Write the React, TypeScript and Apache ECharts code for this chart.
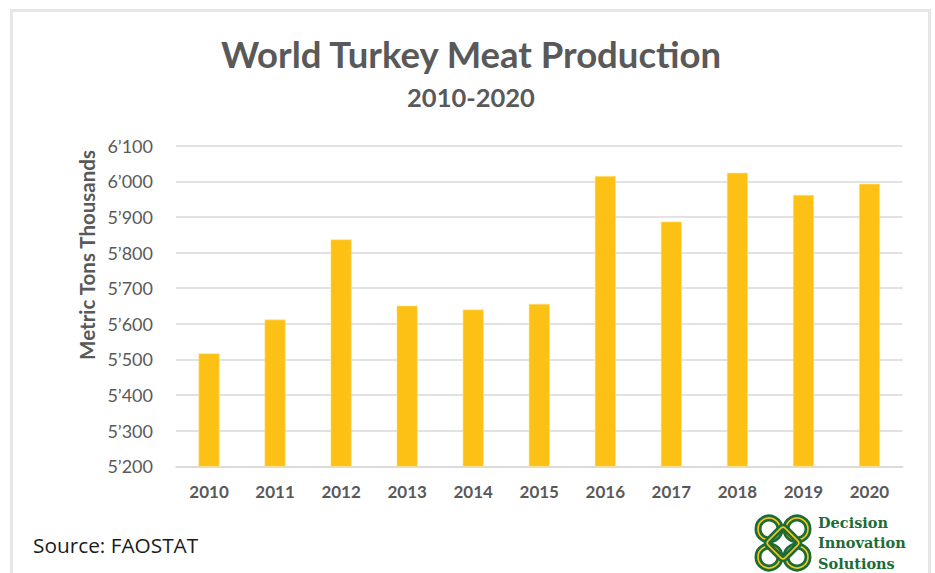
import React, { useEffect, useRef } from "react";
import * as echarts from "echarts";

const years = ["2010", "2011", "2012", "2013", "2014", "2015", "2016", "2017", "2018", "2019", "2020"];
const production = [5517, 5612, 5837, 5651, 5640, 5656, 6015, 5887, 6024, 5962, 5993];
const yMin = 5200;
const yMax = 6100;
const yStep = 100;

const FONT = "Lato, 'Noto Sans', sans-serif";
const GRAY = "#595959";
const GREEN = "#1d6b37";
const GOLD = "#f5c518";

export default function App() {
  const ref = useRef<HTMLDivElement>(null);
  useEffect(() => {
    if (!ref.current) return;
    const chart = echarts.init(ref.current, undefined, { renderer: "svg" });
    const knot: any[] = [];
    const cx = 783, cy = 543;
    const loops = [
      [cx - 14, cy - 14],
      [cx + 14, cy - 14],
      [cx - 14, cy + 14],
      [cx + 14, cy + 14],
    ];
    loops.forEach(([x, y]) => {
      knot.push({ type: "circle", shape: { cx: x, cy: y, r: 11 }, style: { fill: "none", stroke: GREEN, lineWidth: 7 } });
      knot.push({ type: "circle", shape: { cx: x, cy: y, r: 11 }, style: { fill: "none", stroke: GOLD, lineWidth: 1.6 } });
    });
    knot.push({
      type: "rect",
      x: cx,
      y: cy,
      rotation: Math.PI / 4,
      shape: { x: -12, y: -12, width: 24, height: 24, r: 3 },
      style: { fill: "none", stroke: GREEN, lineWidth: 7 },
    });
    knot.push({
      type: "rect",
      x: cx,
      y: cy,
      rotation: Math.PI / 4,
      shape: { x: -12, y: -12, width: 24, height: 24, r: 3 },
      style: { fill: "none", stroke: GOLD, lineWidth: 1.6 },
    });

    chart.setOption({
      animation: false,
      backgroundColor: "#ffffff",
      title: [
        {
          text: "World Turkey Meat Production",
          left: 466,
          textAlign: "center",
          top: 30,
          textStyle: { fontFamily: FONT, fontSize: 36.5, fontWeight: "bold", color: GRAY },
        },
        {
          text: "2010-2020",
          left: 466,
          textAlign: "center",
          top: 79,
          textStyle: { fontFamily: FONT, fontSize: 25.5, fontWeight: "bold", color: GRAY },
        },
      ],
      grid: { left: 176, right: 32.5, top: 145.7, bottom: 106.7 },
      xAxis: {
        type: "category",
        data: years,
        axisTick: { show: false },
        axisLine: { lineStyle: { color: "#d9d9d9", width: 1.5 } },
        axisLabel: { fontFamily: FONT, fontSize: 17, fontWeight: "bold", color: GRAY, margin: 17 },
      },
      yAxis: {
        type: "value",
        min: yMin,
        max: yMax,
        interval: yStep,
        axisLine: { show: false },
        axisTick: { show: false },
        splitLine: { lineStyle: { color: "#d9d9d9", width: 1.5 } },
        axisLabel: {
          fontFamily: FONT,
          fontSize: 18,
          color: GRAY,
          margin: 23,
          formatter: (v: number) => {
            const s = String(v);
            return s.slice(0, s.length - 3) + "\u2019" + s.slice(s.length - 3);
          },
        },
      },
      series: [
        {
          type: "bar",
          data: production,
          barWidth: 21,
          itemStyle: { color: "#fcc114", borderColor: "#fde58a", borderWidth: 0.6 },
        },
      ],
      graphic: [
        {
          type: "rect",
          shape: { x: 11.5, y: 10.5, width: 918, height: 620 },
          style: { fill: "none", stroke: "#e6e6e6", lineWidth: 3 },
          silent: true,
        },
        {
          type: "text",
          x: 87,
          y: 255,
          rotation: Math.PI / 2,
          style: {
            text: "Metric Tons Thousands",
            fontFamily: FONT,
            fontSize: 20.5,
            fontWeight: "bold",
            fill: GRAY,
            align: "center",
            verticalAlign: "middle",
          },
        },
        {
          type: "text",
          x: 33,
          y: 545,
          style: {
            text: "Source: FAOSTAT",
            fontFamily: "'Open Sans', 'Noto Sans', sans-serif",
            fontSize: 20.8,
            fill: "#1a1a1a",
            verticalAlign: "middle",
          },
        },
        ...knot,
        {
          type: "text",
          x: 818,
          y: 512,
          style: {
            text: "Decision\nInnovation\nSolutions",
            fontFamily: "'DejaVu Serif', 'Liberation Serif', serif",
            fontSize: 14.5,
            fontWeight: "bold",
            lineHeight: 20.5,
            fill: GREEN,
          },
        },
      ],
    });
    return () => chart.dispose();
  }, []);
  return <div ref={ref} style={{ position: "fixed", left: 0, top: 0, width: 935, height: 573 }} />;
}
